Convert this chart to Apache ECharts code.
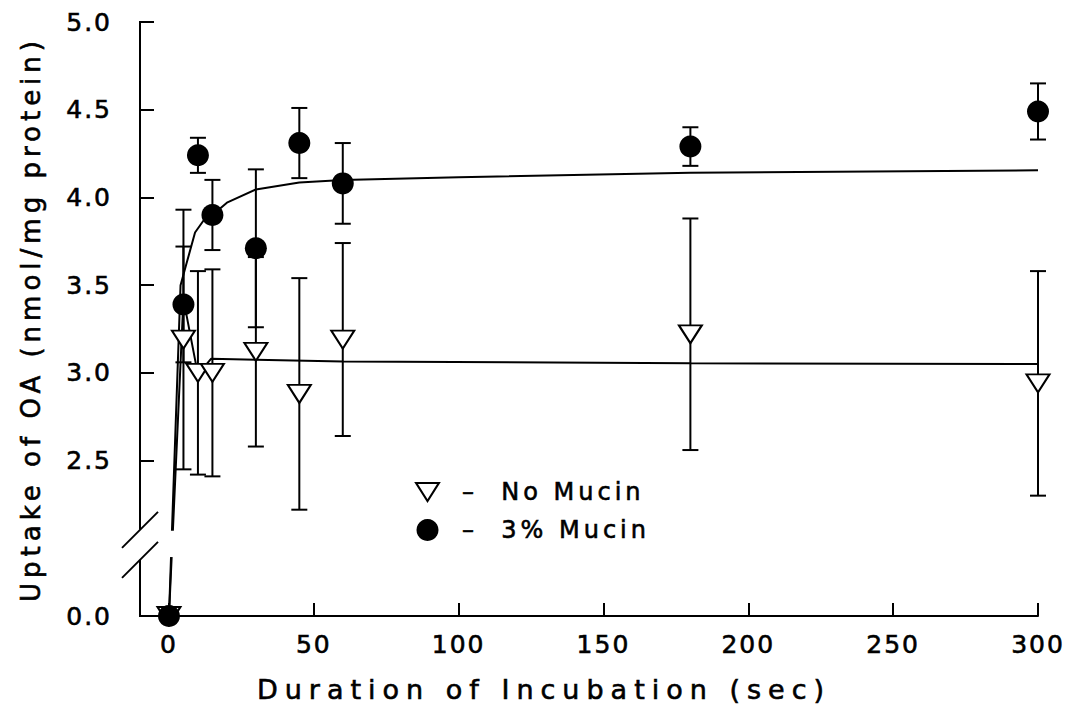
<!DOCTYPE html>
<html>
<head>
<meta charset="utf-8">
<title>Uptake of OA</title>
<script src="https://cdn.jsdelivr.net/npm/echarts@6.0.0/dist/echarts.min.js"></script>
<style>
  html, body { margin: 0; padding: 0; background: #fff; }
  #chart { width: 1071px; height: 723px; }
  /* the lettering in the figure is heavy and widely spaced, titles most of all */
  #chart text { letter-spacing: 4px; stroke: #000; stroke-width: 0.6px; }
  #chart text[style*="25px"] { letter-spacing: 2px; }
  #chart text[style*="26px"] { letter-spacing: 5px; }
  #chart text[style*="27px"] { letter-spacing: 7px; }
</style>
</head>
<body>
<div id="chart"></div>
<script>
// sampling times (sec)
const times = [0, 5, 10, 15, 30, 45, 60, 180, 300];
// means and error bar half-lengths
const noMucin = [0, 3.19, 3.00, 3.00, 3.12, 2.88, 3.19, 3.22, 2.94];
const noMucinErr = [0, 0.74, 0.58, 0.59, 0.54, 0.66, 0.55, 0.66, 0.64];
const mucin = [0, 3.39, 4.24, 3.90, 3.71, 4.31, 4.08, 4.29, 4.49];
const mucinErr = [0, 0.33, 0.10, 0.20, 0.45, 0.20, 0.23, 0.11, 0.16];

// fitted curves as drawn in the figure
const mucinFitT = [0, 4, 6, 9, 12, 15, 20, 30, 45, 60, 100, 180, 300];
const mucinFit = [0, 3.50, 3.62, 3.80, 3.87, 3.90, 3.97, 4.045, 4.085, 4.10, 4.115, 4.14, 4.155];
const noMucinFitT = [0, 5, 10, 14.5, 30, 60, 180, 300];
const noMucinFit = [0, 3.42, 2.99, 3.08, 3.075, 3.065, 3.055, 3.05];

const xTicks = [0, 50, 100, 150, 200, 250, 300];
const yTicks = [0, 2.5, 3.0, 3.5, 4.0, 4.5, 5.0];

const FONT = 'DejaVu Sans';
const X_MIN = -10;
// broken y axis: 0.0 is drawn just below the 2.5 tick
const ZERO_AT = 1.614;
const BREAK_HIGH = 2.105;
const BREAK_LOW = 1.934;
const toAxis = v => (v < 1 ? ZERO_AT + v : v);

const TRIANGLE = 'path://M0,0L24,0L12,19Z';
const lineStyle = { stroke: '#000', lineWidth: 2 };

function pairs(xs, ys) {
  return xs.map((x, i) => [x, toAxis(ys[i])]);
}

function errorBars(means, errs) {
  return {
    type: 'custom',
    z: 4,
    silent: true,
    encode: { x: 0, y: [1, 2] },
    data: times
      .map((t, i) => [t, means[i] - errs[i], means[i] + errs[i]])
      .filter((d, i) => errs[i] > 0),
    renderItem(params, api) {
      const lo = api.coord([api.value(0), toAxis(api.value(1))]);
      const hi = api.coord([api.value(0), toAxis(api.value(2))]);
      const w = 8;
      return {
        type: 'group',
        children: [
          { type: 'line', shape: { x1: lo[0], y1: lo[1], x2: hi[0], y2: hi[1] }, style: lineStyle },
          { type: 'line', shape: { x1: lo[0] - w, y1: lo[1], x2: lo[0] + w, y2: lo[1] }, style: lineStyle },
          { type: 'line', shape: { x1: hi[0] - w, y1: hi[1], x2: hi[0] + w, y2: hi[1] }, style: lineStyle }
        ]
      };
    }
  };
}

const chart = echarts.init(document.getElementById('chart'), null, { renderer: 'svg' });

chart.setOption({
  backgroundColor: '#fff',
  animation: false,
  textStyle: { fontFamily: FONT, color: '#000' },
  grid: { left: 140, right: 33, top: 22, bottom: 107 },
  xAxis: {
    type: 'value',
    min: X_MIN,
    max: 300,
    name: 'Duration of Incubation (sec)',
    nameLocation: 'middle',
    nameGap: 60,
    nameTextStyle: { fontFamily: FONT, fontSize: 27, color: '#000', padding: [0, 90, 0, 0] },
    axisLine: { show: true, onZero: false, lineStyle: { color: '#000', width: 2 } },
    axisTick: { show: true, inside: true, length: 13, customValues: xTicks, lineStyle: { color: '#000', width: 2 } },
    axisLabel: { customValues: xTicks, margin: 16, fontFamily: FONT, fontSize: 25, color: '#000' },
    splitLine: { show: false }
  },
  yAxis: {
    type: 'value',
    min: ZERO_AT,
    max: 5,
    name: 'Uptake of OA (nmol/mg protein)',
    nameLocation: 'middle',
    nameRotate: 90,
    nameGap: 96,
    nameTextStyle: { fontFamily: FONT, fontSize: 26, color: '#000' },
    axisLine: { show: false, onZero: false },
    axisTick: {
      show: true, inside: true, length: 14,
      customValues: yTicks.filter(v => v > 0),
      lineStyle: { color: '#000', width: 2 }
    },
    axisLabel: {
      customValues: yTicks.map(toAxis),
      margin: 28,
      fontFamily: FONT, fontSize: 25, color: '#000',
      formatter: v => (v < 2 ? '0.0' : v.toFixed(1))
    },
    splitLine: { show: false }
  },
  legend: {
    data: [
      { name: 'No Mucin', icon: TRIANGLE, itemStyle: { color: '#fff', borderColor: '#000', borderWidth: 2 } },
      { name: '3% Mucin', icon: 'circle', itemStyle: { color: '#000', borderWidth: 0 } }
    ],
    orient: 'vertical',
    left: 410,
    top: 475,
    itemWidth: 23,
    itemHeight: 22,
    itemGap: 14,
    selectedMode: false,
    formatter: n => '–  ' + n,
    textStyle: { fontFamily: FONT, fontSize: 24, color: '#000', padding: [0, 0, 0, 18] }
  },
  series: [
    {
      name: 'No Mucin fit',
      type: 'line',
      z: 2,
      clip: false,
      showSymbol: false,
      silent: true,
      data: pairs(noMucinFitT, noMucinFit),
      lineStyle: { color: '#000', width: 2 }
    },
    {
      name: '3% Mucin fit',
      type: 'line',
      z: 2,
      clip: false,
      showSymbol: false,
      silent: true,
      data: pairs(mucinFitT, mucinFit),
      lineStyle: { color: '#000', width: 2 }
    },
    {
      // axis line with its break marks, and the gap the break cuts in the curves
      type: 'custom',
      z: 3,
      clip: false,
      silent: true,
      data: [[X_MIN, ZERO_AT]],
      renderItem(params, api) {
        const top = api.coord([X_MIN, 5]);
        const b1 = api.coord([X_MIN, BREAK_HIGH]);
        const b2 = api.coord([X_MIN, BREAK_LOW]);
        const bottom = api.coord([X_MIN, ZERO_AT]);
        const g1 = api.coord([-1.2, 2.10]);
        const g2 = api.coord([3.5, 1.95]);
        const s = 18;
        return {
          type: 'group',
          children: [
            { type: 'rect', shape: { x: g1[0], y: g1[1], width: g2[0] - g1[0], height: g2[1] - g1[1] }, style: { fill: '#fff' } },
            { type: 'line', shape: { x1: top[0], y1: top[1] - 1, x2: b1[0], y2: b1[1] }, style: lineStyle },
            { type: 'line', shape: { x1: b2[0], y1: b2[1], x2: bottom[0], y2: bottom[1] + 1 }, style: lineStyle },
            { type: 'line', shape: { x1: b1[0] - s, y1: b1[1] + s, x2: b1[0] + s, y2: b1[1] - s }, style: lineStyle },
            { type: 'line', shape: { x1: b2[0] - s, y1: b2[1] + s, x2: b2[0] + s, y2: b2[1] - s }, style: lineStyle }
          ]
        };
      }
    },
    errorBars(noMucin, noMucinErr),
    errorBars(mucin, mucinErr),
    {
      name: 'No Mucin',
      type: 'scatter',
      z: 5,
      clip: false,
      symbol: TRIANGLE,
      symbolSize: [23, 18],
      itemStyle: { color: '#fff', borderColor: '#000', borderWidth: 2, opacity: 1 },
      data: pairs(times, noMucin)
    },
    {
      name: '3% Mucin',
      type: 'scatter',
      z: 6,
      clip: false,
      symbol: 'circle',
      symbolSize: 22,
      itemStyle: { color: '#000', opacity: 1 },
      data: pairs(times, mucin)
    }
  ]
});
</script>
</body>
</html>
